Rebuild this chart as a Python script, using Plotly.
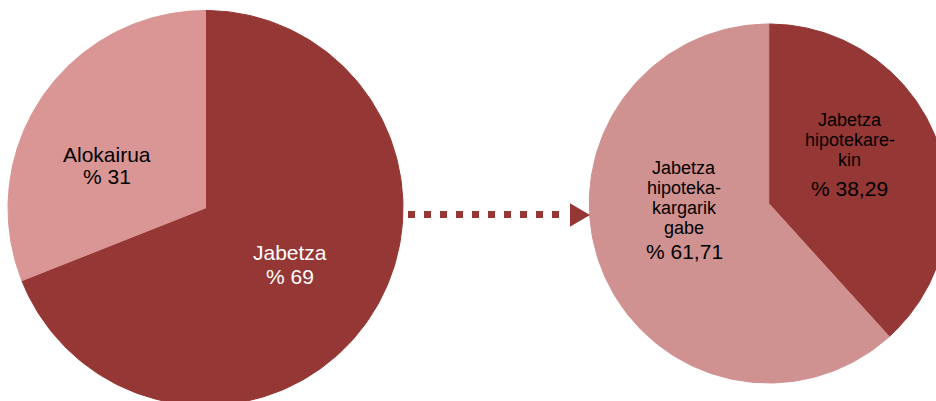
import numpy as np
import plotly.graph_objects as go

# ---- data ----
left_labels = ["Jabetza", "Alokairua"]
left_values = [69, 31]
left_text_lines = [["Jabetza", "% 69"], ["Alokairua", "% 31"]]

right_labels = ["Jabetza hipotekarekin", "Jabetza hipotekakargarik gabe"]
right_values = [38.29, 61.71]
right_text_lines = [["Jabetza", "hipotekare-", "kin", "% 38,29"],
                    ["Jabetza", "hipoteka-", "kargarik", "gabe", "% 61,71"]]

# ---- styles ----
DARK = "#953735"
LEFT_LIGHT = "#D99694"
RIGHT_LIGHT = "#D09191"
FONT = "Liberation Sans, Arial, sans-serif"

W, H = 936, 401

fig = go.Figure()


def add_pie(values, labels, colors, cx, cy, r):
    total = float(sum(values))
    start = 0.0
    for v, lab, col in zip(values, labels, colors):
        frac = v / total
        th = np.linspace(start, start + frac * 2 * np.pi, 200)
        xs = np.concatenate([[cx], cx + r * np.sin(th), [cx]])
        ys = np.concatenate([[cy], cy - r * np.cos(th), [cy]])
        fig.add_trace(go.Scatter(
            x=xs, y=ys, mode="lines", fill="toself", fillcolor=col,
            line=dict(color=col, width=1), name=lab, hoverinfo="name",
            showlegend=False))
        start += frac * 2 * np.pi


add_pie(left_values, left_labels, [DARK, LEFT_LIGHT], 205.5, 208, 197.5)
add_pie(right_values, right_labels, [DARK, RIGHT_LIGHT], 768.8, 203.5, 179.5)


def add_lines(lines, x, y0, pitch, size, color, last_size=None, last_gap=0):
    y = y0
    for i, t in enumerate(lines):
        fs = size
        yy = y
        if last_size is not None and i == len(lines) - 1:
            fs = last_size
            yy = y + last_gap
        fig.add_annotation(x=x, y=yy, xref="x", yref="y", text=t,
                           showarrow=False, xanchor="center", yanchor="middle",
                           font=dict(family=FONT, size=fs, color=color))
        y += pitch


# left pie labels
add_lines(left_text_lines[1], 106.5, 154, 22.7, 21, "#000000")
add_lines(left_text_lines[0], 290, 252.5, 24, 21, "#FFFFFF")
# right pie labels
add_lines(right_text_lines[0], 849.5, 120, 20, 18, "#000000", last_size=21, last_gap=8)
add_lines(right_text_lines[1], 684, 167.5, 20, 18, "#000000", last_size=21, last_gap=4)

# dotted arrow
fig.add_shape(type="line", x0=408, x1=567, y0=214.5, y1=214.5, xref="x", yref="y",
              line=dict(color=DARK, width=7, dash="7px,9px"), layer="above")
fig.add_shape(type="path", path="M 570,203.3 L 590,215 L 570,226.7 Z",
              xref="x", yref="y", fillcolor=DARK, line=dict(color=DARK, width=0),
              layer="above")

fig.update_layout(
    width=W, height=H, autosize=False,
    margin=dict(l=0, r=0, t=0, b=0, pad=0),
    paper_bgcolor="white", plot_bgcolor="white",
    xaxis=dict(range=[0, W], visible=False, fixedrange=True),
    yaxis=dict(range=[H, 0], visible=False, fixedrange=True),
    showlegend=False,
)

fig.write_html("out.html")
